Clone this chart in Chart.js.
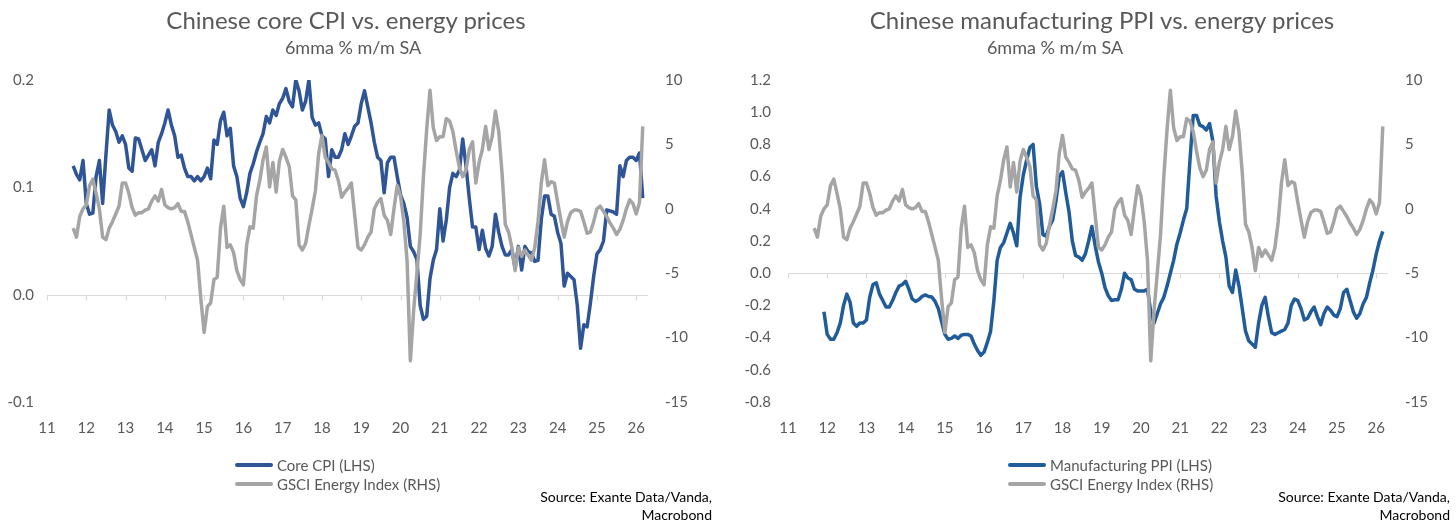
<!DOCTYPE html>
<html>
<head>
<meta charset="utf-8">
<script src="https://cdn.jsdelivr.net/npm/chart.js@4.4.1/dist/chart.umd.min.js"></script>
<style>
  body { margin: 0; background: #fff; }
  #page { position: relative; width: 1456px; height: 524px; overflow: hidden; font-family: Lato, sans-serif; color: #595959; }
  canvas { position: absolute; top: 0; }
  .title { position: absolute; width: 700px; text-align: center; font-size: 24px; line-height: 28px; white-space: nowrap; }
  .sub { position: absolute; width: 400px; text-align: center; font-size: 18px; line-height: 20px; white-space: nowrap; }
  .legend { position: absolute; font-size: 15px; }
  .legend div { height: 19px; display: flex; align-items: center; white-space: nowrap; }
  .legend .sw { display: inline-block; width: 38px; height: 4px; margin-right: 4px; border-radius: 2px; }
  .source { position: absolute; width: 300px; text-align: right; font-size: 14px; line-height: 18px; color: #000; }
</style>
</head>
<body>
<div id="page">
  <canvas id="cpi" width="728" height="524" style="left:0"></canvas>
  <canvas id="ppi" width="728" height="524" style="left:728px"></canvas>

  <div class="title" style="left:-4px;top:6px">Chinese core CPI vs. energy prices</div>
  <div class="sub" style="left:153px;top:37px">6mma % m/m SA</div>
  <div class="legend" style="left:235px;top:455px">
    <div><span class="sw" style="background:#2f5597"></span>Core CPI (LHS)</div>
    <div><span class="sw" style="background:#a5a5a5"></span>GSCI Energy Index (RHS)</div>
  </div>
  <div class="source" style="left:412px;top:488px">Source: Exante Data/Vanda,<br>Macrobond</div>

  <div class="title" style="left:752px;top:6px">Chinese manufacturing PPI vs. energy prices</div>
  <div class="sub" style="left:855px;top:37px">6mma % m/m SA</div>
  <div class="legend" style="left:1008px;top:455px">
    <div><span class="sw" style="background:#1f5c99"></span>Manufacturing PPI (LHS)</div>
    <div><span class="sw" style="background:#a5a5a5"></span>GSCI Energy Index (RHS)</div>
  </div>
  <div class="source" style="left:1150px;top:488px">Source: Exante Data/Vanda,<br>Macrobond</div>
</div>

<script>
// monthly series, Sep 2011 .. Mar 2026 (rows: 2011 Sep-Dec, then one row per year)
const startYear = 2011;
const startMonth = 9;

const yearLabels = ['11', '12', '13', '14', '15', '16', '17', '18', '19', '20', '21', '22', '23', '24', '25', '26'];

const coreCpi = [
  0.120, 0.112, 0.107, 0.125,
  0.085, 0.075, 0.076, 0.110, 0.125, 0.085, 0.130, 0.172, 0.158, 0.152, 0.142, 0.148,
  0.140, 0.118, 0.115, 0.146, 0.145, 0.135, 0.125, 0.130, 0.135, 0.120, 0.142, 0.150,
  0.160, 0.172, 0.158, 0.148, 0.128, 0.130, 0.118, 0.110, 0.110, 0.106, 0.110, 0.106,
  0.110, 0.118, 0.108, 0.144, 0.140, 0.162, 0.170, 0.148, 0.155, 0.120, 0.110, 0.090,
  0.082, 0.095, 0.113, 0.122, 0.133, 0.142, 0.150, 0.166, 0.160, 0.172, 0.167, 0.178,
  0.183, 0.192, 0.180, 0.175, 0.200, 0.190, 0.172, 0.180, 0.200, 0.165, 0.158, 0.160,
  0.148, 0.145, 0.110, 0.135, 0.128, 0.128, 0.135, 0.150, 0.140, 0.148, 0.157, 0.160,
  0.178, 0.190, 0.175, 0.160, 0.142, 0.128, 0.125, 0.095, 0.123, 0.128, 0.128, 0.110,
  0.093, 0.085, 0.072, 0.045, 0.040, 0.033, -0.010, -0.023, -0.020, 0.015, 0.032, 0.042,
  0.080, 0.050, 0.070, 0.100, 0.113, 0.110, 0.116, 0.145, 0.120, 0.090, 0.063, 0.063,
  0.042, 0.060, 0.043, 0.036, 0.045, 0.075, 0.058, 0.045, 0.037, 0.037, 0.042, 0.025,
  0.045, 0.023, 0.045, 0.040, 0.039, 0.031, 0.032, 0.070, 0.092, 0.092, 0.075, 0.073,
  0.058, 0.048, 0.008, 0.020, 0.017, 0.014, -0.010, -0.050, -0.028, -0.030, -0.008, 0.017,
  0.038, 0.042, 0.050, 0.079, 0.078, 0.077, 0.075, 0.120, 0.110, 0.125, 0.128, 0.128,
  0.125, 0.132, 0.090
];

const manufPpi = [
  null, null, null, -0.24,
  -0.38, -0.41, -0.41, -0.37, -0.31, -0.20, -0.13, -0.18, -0.31, -0.33, -0.31, -0.31,
  -0.29, -0.15, -0.07, -0.06, -0.13, -0.17, -0.21, -0.21, -0.17, -0.12, -0.08, -0.07,
  -0.05, -0.10, -0.16, -0.175, -0.165, -0.145, -0.135, -0.145, -0.148, -0.175, -0.22, -0.30,
  -0.38, -0.41, -0.405, -0.39, -0.405, -0.385, -0.38, -0.38, -0.39, -0.44, -0.48, -0.51,
  -0.49, -0.43, -0.36, -0.17, 0.08, 0.16, 0.19, 0.25, 0.31, 0.25, 0.17, 0.47,
  0.61, 0.70, 0.78, 0.80, 0.54, 0.43, 0.24, 0.23, 0.29, 0.33, 0.45, 0.60,
  0.63, 0.50, 0.38, 0.20, 0.11, 0.10, 0.08, 0.12, 0.20, 0.29, 0.17, 0.07,
  0.00, -0.09, -0.14, -0.17, -0.165, -0.165, -0.10, 0.00, -0.03, -0.04, -0.10, -0.11,
  -0.11, -0.11, -0.10, -0.24, -0.31, -0.25, -0.19, -0.15, -0.08, 0.00, 0.08, 0.18,
  0.25, 0.33, 0.40, 0.70, 0.98, 0.98, 0.92, 0.91, 0.89, 0.93, 0.82, 0.48,
  0.32, 0.20, 0.10, -0.08, -0.12, 0.02, -0.08, -0.22, -0.36, -0.42, -0.44, -0.46,
  -0.31, -0.20, -0.15, -0.27, -0.37, -0.38, -0.37, -0.36, -0.35, -0.31, -0.20, -0.16,
  -0.17, -0.22, -0.29, -0.28, -0.24, -0.21, -0.27, -0.32, -0.25, -0.21, -0.23, -0.26,
  -0.27, -0.22, -0.12, -0.10, -0.17, -0.24, -0.28, -0.25, -0.19, -0.15, -0.06, 0.02,
  0.12, 0.20, 0.26
];

const gsciEnergy = [
  -1.5, -2.2, -0.6, 0.0,
  0.3, 1.8, 2.3, 1.2, 0.0, -2.2, -2.4, -1.5, -1.0, -0.4, 0.2, 2.0,
  2.0, 1.2, 0.1, -0.5, -0.3, -0.3, -0.1, 0.0, 0.6, 1.0, 0.6, 1.5,
  0.3, 0.1, 0.0, 0.1, 0.4, -0.2, -0.2, -1.0, -2.0, -3.0, -4.0, -7.0,
  -9.6, -7.6, -7.3, -5.5, -5.3, -1.5, 0.2, -3.0, -2.8, -3.4, -4.8, -5.5,
  -5.9, -2.8, -1.4, -1.5, 1.0, 2.2, 3.8, 4.8, 1.7, 3.6, 1.3, 3.7,
  4.6, 4.0, 3.3, 1.0, 0.7, -2.8, -3.2, -2.7, -1.3, 0.0, 1.4, 4.3,
  5.7, 4.0, 3.6, 3.1, 3.0, 2.2, 0.9, 1.3, 1.6, 2.0, -0.5, -3.0,
  -3.2, -2.8, -2.2, -1.8, 0.0, 0.5, 0.8, -0.5, -0.9, -2.0, 0.0, 1.8,
  1.0, -1.0, -4.0, -11.8, -7.9, -5.0, -2.0, 2.5, 6.2, 9.2, 6.3, 5.3,
  5.6, 5.6, 7.0, 6.8, 6.0, 4.5, 3.2, 2.5, 3.0, 4.6, 5.2, 2.0,
  3.6, 4.6, 6.4, 4.6, 5.6, 7.6, 6.0, 2.8, -1.2, -1.8, -3.0, -4.8,
  -3.0, -3.7, -3.2, -3.6, -4.0, -3.0, -1.0, 2.0, 3.8, 1.8, 2.1, 2.0,
  0.5, -0.9, -2.2, -1.0, -0.3, -0.1, -0.1, -0.2, -1.0, -1.9, -1.8, -1.0,
  0.0, 0.2, -0.2, -0.6, -1.1, -1.5, -2.0, -1.6, -0.9, 0.0, 0.7, 0.4,
  -0.4, 0.5, 6.4
];

const FONT = 'Lato';
const TEXT = '#595959';
const GREY = '#a5a5a5';

// x in years since 2000, month i counted from the first observation
function monthPos(i) {
  const k = startMonth - 1 + i;
  return (startYear - 2000) + Math.floor(k / 12) + (k % 12) / 12;
}

function points(vals) {
  return vals.map((v, i) => ({x: monthPos(i), y: v}));
}

// Excel-style category axis: line at zero with small tick marks, labels low
const zeroAxis = {
  id: 'zeroAxis',
  beforeDatasetsDraw(chart) {
    const {ctx, chartArea, scales} = chart;
    const y0 = Math.round(scales.y.getPixelForValue(0)) + 0.5;
    ctx.save();
    ctx.strokeStyle = '#d9d9d9';
    ctx.lineWidth = 1.2;
    ctx.beginPath();
    ctx.moveTo(chartArea.left, y0);
    ctx.lineTo(chartArea.right, y0);
    scales.x.ticks.forEach(t => {
      const px = Math.round(scales.x.getPixelForValue(t.value)) + 0.5;
      ctx.moveTo(px, y0);
      ctx.lineTo(px, y0 + 5);
    });
    ctx.stroke();
    ctx.restore();
  }
};

function makeChart(id, lhsLabel, lhsData, lhsColor, lhs, leftWidth, leftPad, rightWidth) {
  const ctx = document.getElementById(id).getContext('2d');
  return new Chart(ctx, {
    type: 'line',
    data: {
      datasets: [
        {
          label: lhsLabel,
          data: points(lhsData),
          yAxisID: 'y',
          borderColor: lhsColor,
          borderWidth: 3.5,
          pointRadius: 0,
          tension: 0,
          borderJoinStyle: 'round',
          order: 1
        },
        {
          label: 'GSCI Energy Index (RHS)',
          data: points(gsciEnergy),
          yAxisID: 'y1',
          borderColor: GREY,
          borderWidth: 3.5,
          pointRadius: 0,
          tension: 0,
          borderJoinStyle: 'round',
          order: 0
        }
      ]
    },
    options: {
      responsive: false,
      animation: false,
      devicePixelRatio: 1,
      layout: {
        padding: {top: 80, bottom: 0, left: 0, right: 0}
      },
      plugins: {
        legend: {display: false},
        tooltip: {enabled: false}
      },
      scales: {
        x: {
          type: 'linear',
          min: 11,
          max: 26.3,
          afterFit: s => { s.height = 122; },
          grid: {display: false, drawTicks: false},
          border: {display: false},
          ticks: {
            stepSize: 1,
            includeBounds: false,
            padding: 17,
            maxRotation: 0,
            autoSkip: false,
            color: TEXT,
            font: {family: FONT, size: 15},
            callback: v => yearLabels[v - 11] ?? ''
          }
        },
        y: {
          position: 'left',
          min: lhs.min,
          max: lhs.max,
          afterFit: s => { s.width = leftWidth; },
          grid: {display: false, drawTicks: false},
          border: {display: false},
          ticks: {
            stepSize: lhs.step,
            padding: leftPad,
            color: TEXT,
            font: {family: FONT, size: 15},
            callback: v => Math.abs(v) < 1e-9 ? '0.0' : v.toFixed(1)
          }
        },
        y1: {
          position: 'right',
          min: -15,
          max: 10,
          afterFit: s => { s.width = rightWidth; },
          grid: {display: false, drawTicks: false},
          border: {display: false},
          ticks: {
            stepSize: 5,
            padding: 17,
            color: TEXT,
            font: {family: FONT, size: 15},
            callback: v => String(Math.round(v))
          }
        }
      }
    },
    plugins: [zeroAxis]
  });
}

makeChart('cpi', 'Core CPI (LHS)', coreCpi, '#2f5597', {min: -0.1, max: 0.2, step: 0.1}, 47, 13, 80);
makeChart('ppi', 'Manufacturing PPI (LHS)', manufPpi, '#1f5c99', {min: -0.8, max: 1.2, step: 0.2}, 60, 17, 68);
</script>
</body>
</html>
